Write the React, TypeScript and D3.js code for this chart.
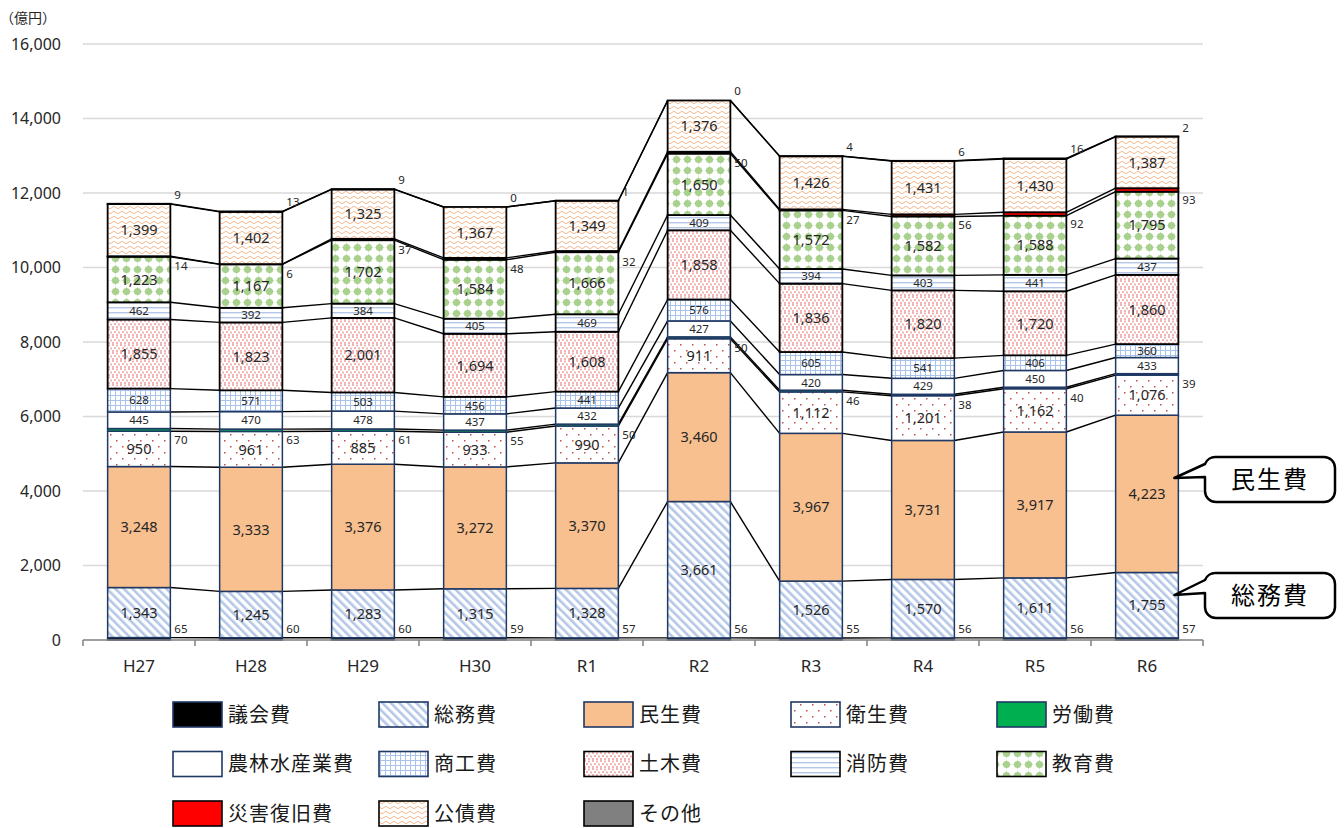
import React from 'react';
import * as d3 from 'd3';

const categories = ['H27', 'H28', 'H29', 'H30', 'R1', 'R2', 'R3', 'R4', 'R5', 'R6'];

const gikai = [65, 60, 60, 59, 57, 56, 55, 56, 56, 57];
const somu = [1343, 1245, 1283, 1315, 1328, 3661, 1526, 1570, 1611, 1755];
const minsei = [3248, 3333, 3376, 3272, 3370, 3460, 3967, 3731, 3917, 4223];
const eisei = [950, 961, 885, 933, 990, 911, 1112, 1201, 1162, 1076];
const rodo = [70, 63, 61, 55, 50, 50, 46, 38, 40, 39];
const norin = [445, 470, 478, 437, 432, 427, 420, 429, 450, 433];
const shoko = [628, 571, 503, 456, 441, 576, 605, 541, 406, 360];
const doboku = [1855, 1823, 2001, 1694, 1608, 1858, 1836, 1820, 1720, 1860];
const shobo = [462, 392, 384, 405, 469, 409, 394, 403, 441, 437];
const kyoiku = [1223, 1167, 1702, 1584, 1666, 1650, 1572, 1582, 1588, 1795];
const saigai = [14, 6, 37, 48, 32, 50, 27, 56, 92, 93];
const kosai = [1399, 1402, 1325, 1367, 1349, 1376, 1426, 1431, 1430, 1387];
const sonota = [9, 13, 9, 0, 1, 0, 4, 6, 16, 2];

const seriesNames = ['議会費', '総務費', '民生費', '衛生費', '労働費', '農林水産業費', '商工費', '土木費', '消防費', '教育費', '災害復旧費', '公債費', 'その他'];
const seriesValues = [gikai, somu, minsei, eisei, rodo, norin, shoko, doboku, shobo, kyoiku, saigai, kosai, sonota];
const yTicks = [0, 2000, 4000, 6000, 8000, 10000, 12000, 14000, 16000];

const NAVY = '#203864';
const styles = [
  { fill: '#000000', stroke: NAVY, sw: 1.5 },
  { fill: 'url(#p-somu)', stroke: NAVY, sw: 1.5 },
  { fill: '#f8bf8f', stroke: NAVY, sw: 1.5 },
  { fill: 'url(#p-eisei)', stroke: NAVY, sw: 1.5 },
  { fill: '#00b050', stroke: NAVY, sw: 1.5 },
  { fill: '#ffffff', stroke: NAVY, sw: 1.5 },
  { fill: 'url(#p-shoko)', stroke: NAVY, sw: 1.5 },
  { fill: 'url(#p-doboku)', stroke: '#000', sw: 1.8 },
  { fill: 'url(#p-shobo)', stroke: '#000', sw: 1.8 },
  { fill: 'url(#p-kyoiku)', stroke: '#000', sw: 1.8 },
  { fill: '#ff0000', stroke: '#000', sw: 1.8 },
  { fill: 'url(#p-kosai)', stroke: '#000', sw: 1.8 },
  { fill: '#808080', stroke: '#000', sw: 1.8 },
];

// outside label series: index -> placement
const outside: Record<number, string> = { 0: 'top-up', 4: 'mid-down', 10: 'mid-down', 12: 'top-up' };

const FONT = "'Noto Sans', 'Noto Sans CJK JP', sans-serif";
const JFONT = "'Noto Sans CJK JP', 'Noto Sans', sans-serif";

export default function App() {
  const W = 1344, H = 828;
  const x = d3.scaleBand<string>().domain(categories).range([83, 1203]).paddingInner(0.44).paddingOuter(0.22);
  const y = d3.scaleLinear().domain([0, 16000]).range([640, 44]);
  const bw = x.bandwidth();
  const fmt = d3.format(',');

  const cum: number[][] = categories.map((_, i) => {
    const arr = [0];
    let s = 0;
    seriesValues.forEach((sv) => { s += sv[i]; arr.push(s); });
    return arr;
  });

  const connectors: JSX.Element[] = [];
  for (let i = 0; i < categories.length - 1; i++) {
    for (let k = 1; k <= seriesValues.length; k++) {
      connectors.push(
        <line key={`c${i}-${k}`} x1={x(categories[i])! + bw} y1={y(cum[i][k])} x2={x(categories[i + 1])!} y2={y(cum[i + 1][k])} stroke="#000" strokeWidth={1.4} />
      );
    }
  }

  const rects: JSX.Element[] = [];
  const labels: JSX.Element[] = [];
  categories.forEach((c, i) => {
    const bx = x(c)!;
    seriesValues.forEach((sv, k) => {
      const y0 = y(cum[i][k]);
      const y1 = y(cum[i][k + 1]);
      const st = styles[k];
      rects.push(
        <rect key={`r${i}-${k}`} x={bx} y={y1} width={bw} height={Math.max(0, y0 - y1)} fill={st.fill} stroke={st.stroke} strokeWidth={st.sw} />
      );
      const v = sv[i];
      const pl = outside[k];
      if (pl) {
        const ly = pl === 'top-up' ? y1 - 9 : (y0 + y1) / 2 + 10;
        labels.push(
          <text key={`l${i}-${k}`} x={bx + bw + 4} y={ly} dy="0.35em" fontSize={11.5} fill="#262626" fontFamily={FONT}>{fmt(v)}</text>
        );
      } else {
        const small = v < 700;
        labels.push(
          <text key={`l${i}-${k}`} x={bx + bw / 2} y={(y0 + y1) / 2} dy="0.36em" textAnchor="middle" fontSize={small ? 11.5 : 14.5} fill="#262626" fontFamily={FONT}>{fmt(v)}</text>
        );
      }
    });
  });

  const legendCols = [173, 379, 584, 791, 997];
  const legendRows = [702, 751.5, 801];
  const legend = seriesNames.map((name, k) => {
    const col = k % 5, row = Math.floor(k / 5);
    const lx = legendCols[col], ly = legendRows[row];
    const st = styles[k];
    return (
      <g key={`lg${k}`}>
        <rect x={lx} y={ly} width={49} height={25} fill={st.fill} stroke={st.stroke} strokeWidth={1.6} />
        <text x={lx + 55} y={ly + 12.5} dy="0.36em" fontSize={20} letterSpacing={1} fill="#1a1a1a" fontFamily={JFONT}>{name}</text>
      </g>
    );
  });

  const callout = (x0: number, y0: number, x1: number, y1: number, tx: number, ty: number, label: string) => {
    const r = 11;
    const d = `M${x0 + r},${y0} H${x1 - r} A${r},${r} 0 0 1 ${x1},${y0 + r} V${y1 - r} A${r},${r} 0 0 1 ${x1 - r},${y1} H${x0 + r} A${r},${r} 0 0 1 ${x0},${y1 - r} V${y0 + 20} L${tx},${ty} L${x0},${y0 + 7} A${r},${r} 0 0 1 ${x0 + r},${y0} Z`;
    return (
      <g>
        <path d={d} fill="#fff" stroke="#000" strokeWidth={2.5} strokeLinejoin="round" />
        <text x={(x0 + x1) / 2} y={(y0 + y1) / 2} dy="0.36em" textAnchor="middle" fontSize={24} letterSpacing={2} fill="#000" fontFamily={JFONT}>{label}</text>
      </g>
    );
  };
  const r6x = x('R6')! + bw;

  return (
    <svg width={W} height={H} style={{ position: 'absolute', left: 0, top: 0, background: '#fff' }} xmlns="http://www.w3.org/2000/svg">
      <defs>
        <pattern id="p-somu" width="6" height="6" patternUnits="userSpaceOnUse" patternTransform="rotate(-45)">
          <rect width="6" height="6" fill="#fff" />
          <rect x="0" y="0" width="2.6" height="6" fill="#b4c7e7" />
        </pattern>
        <pattern id="p-eisei" width="12" height="12" patternUnits="userSpaceOnUse">
          <rect width="12" height="12" fill="#fff" />
          <rect x="2" y="2" width="1.5" height="1.5" fill="#c0504d" />
          <rect x="8" y="8" width="1.5" height="1.5" fill="#c0504d" />
        </pattern>
        <pattern id="p-shoko" width="5" height="5" patternUnits="userSpaceOnUse">
          <rect width="5" height="5" fill="#fff" />
          <path d="M0,0.5 H5 M0.5,0 V5" stroke="#a9c4e8" strokeWidth="1" />
        </pattern>
        <pattern id="p-doboku" width="8" height="8" patternUnits="userSpaceOnUse">
          <rect width="8" height="8" fill="#fff" />
          <rect x="0" y="0" width="2" height="2" fill="#f0b4b4" />
          <rect x="4" y="0.5" width="2" height="2" fill="#f0b4b4" />
          <rect x="2" y="3" width="2" height="2" fill="#f0b4b4" />
          <rect x="6" y="3.5" width="2" height="2" fill="#f0b4b4" />
          <rect x="0" y="6" width="2" height="2" fill="#f0b4b4" />
          <rect x="4" y="6" width="2" height="2" fill="#f0b4b4" />
        </pattern>
        <pattern id="p-shobo" width="6" height="5" patternUnits="userSpaceOnUse">
          <rect width="6" height="5" fill="#fff" />
          <rect x="0" y="2" width="6" height="1.4" fill="#b4c7e7" />
        </pattern>
        <pattern id="p-kyoiku" width="11" height="11" patternUnits="userSpaceOnUse">
          <rect width="11" height="11" fill="#fff" />
          <circle cx="5.5" cy="5.5" r="3.6" fill="#a9d18e" />
          <path d="M5.5,0.3 L6.5,4.5 L10.7,5.5 L6.5,6.5 L5.5,10.7 L4.5,6.5 L0.3,5.5 L4.5,4.5 Z" fill="#a9d18e" />
        </pattern>
        <pattern id="p-kosai" width="8" height="5" patternUnits="userSpaceOnUse">
          <rect width="8" height="5" fill="#fff" />
          <path d="M0,2.5 Q2,0 4,2.5 T8,2.5" fill="none" stroke="#f4b183" strokeWidth="0.9" />
        </pattern>
      </defs>

      {yTicks.filter((t) => t > 0).map((t) => (
        <line key={`g${t}`} x1={83} x2={1203} y1={y(t)} y2={y(t)} stroke="#d9d9d9" strokeWidth={1.5} />
      ))}
      {yTicks.map((t) => (
        <text key={`yt${t}`} x={61} y={y(t)} dy="0.36em" textAnchor="end" fontSize={16} fill="#262626" fontFamily={FONT}>{fmt(t)}</text>
      ))}
      <text x={0} y={18} dy="0.36em" fontSize={14} fill="#262626" fontFamily={JFONT}>（億円）</text>

      {connectors}
      {rects}
      {labels}

      <line x1={83} x2={1203} y1={y(0)} y2={y(0)} stroke="#7f7f7f" strokeWidth={1.5} />
      {d3.range(categories.length + 1).map((i) => {
        const tx = 83 + i * x.step();
        return <line key={`xt${i}`} x1={tx} x2={tx} y1={y(0)} y2={y(0) + 6} stroke="#7f7f7f" strokeWidth={1.5} />;
      })}
      {categories.map((c) => (
        <text key={`xl${c}`} x={x(c)! + bw / 2} y={666} dy="0.36em" textAnchor="middle" fontSize={17} fill="#262626" fontFamily={FONT}>{c}</text>
      ))}

      {legend}

      {callout(1205, 457, 1335, 502, r6x - 4, 478, '民生費')}
      {callout(1205, 573, 1335, 618, r6x - 4, 595, '総務費')}
    </svg>
  );
}
